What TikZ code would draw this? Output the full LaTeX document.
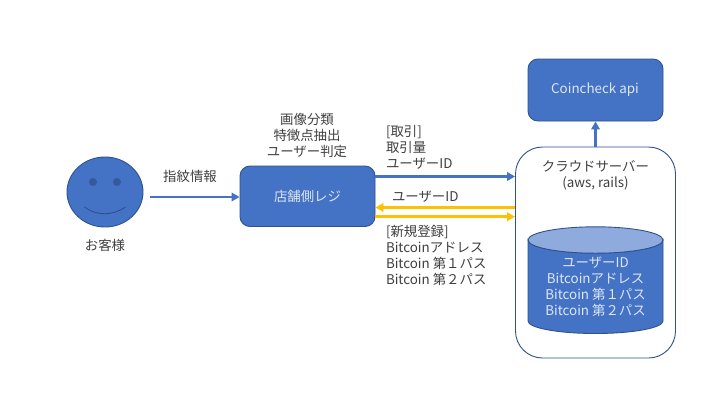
\documentclass[tikz,border=0pt]{standalone}
\usepackage{fontspec}
\setmainfont{Noto Sans CJK JP}
\usetikzlibrary{arrows.meta,shapes.geometric}
\definecolor{fillblue}{HTML}{4472C4}
\definecolor{edgeblue}{HTML}{2F528F}
\definecolor{toplight}{HTML}{8FAADC}
\definecolor{amber}{HTML}{FFC000}
\definecolor{ink}{HTML}{404040}
\definecolor{paletext}{HTML}{DDE6F5}
\tikzset{
  txt/.style={inner sep=0pt,outer sep=0pt,text=ink,font=\fontsize{13.4}{16}\selectfont,align=center},
  ltxt/.style={txt,align=left,anchor=west},
  wtxt/.style={txt,text=paletext},
  blueshape/.style={draw=edgeblue,line width=0.9pt,fill=fillblue},
  box/.style={blueshape,rounded corners=10pt,inner sep=0pt,minimum width=135pt},
  bluearrow/.style={draw=fillblue,line width=2.7pt,-{Triangle[length=8pt,width=8.5pt]}},
  amberarrow/.style={draw=amber,line width=2.7pt,-{Triangle[length=8pt,width=8.5pt]}}
}
\begin{document}
\begin{tikzpicture}[x=1pt,y=-1pt]
\useasboundingbox[fill=white] (0,0) rectangle (720,405);
% face
\node[blueshape,ellipse,minimum width=76pt,minimum height=70pt,inner sep=0pt] (face) at (105,192) {};
\fill[edgeblue!75!fillblue] (93,182) circle (4pt) (117,182) circle (4pt);
\draw[edgeblue,line width=0.9pt] (84.5,207) .. controls (96,216) and (113,216) .. (125.5,207);
\node[txt] (guest) at (105,245) {お客様};
% boxes
\node[box,minimum height=60.5pt] (store) at (307.5,196.25) {};
\node[wtxt] (storelabel) at (307.5,196) {店舗側レジ};
\node[box,minimum height=62pt] (api) at (595.5,90) {};
\node[wtxt] (apilabel) at (595,90.5) {\strut Coincheck api};
\node[draw=edgeblue,line width=0.9pt,fill=white,rounded corners=27pt,minimum width=160pt,minimum height=211pt,inner sep=0pt] (cloud) at (595.5,252.5) {};
\node[txt] (cloudlabel) at (595.5,175) {クラウドサーバー\\(aws, rails)};
% cylinder
\draw[blueshape] (528,240) -- (528,321) arc[start angle=180,end angle=360,x radius=67.5pt,y radius=12.5pt] -- (663,240) arc[start angle=0,end angle=-180,x radius=67.5pt,y radius=13pt] -- cycle;
\draw[draw=edgeblue,line width=0.9pt,fill=toplight] (595.5,240) ellipse [x radius=67.5pt,y radius=13.2pt];
\node[wtxt] (dblabel) at (595.5,287) {ユーザーID\\Bitcoinアドレス\\Bitcoin 第１パス\\Bitcoin 第２パス};
% anchors for connector heights
\coordinate (facestart) at (150,197);
\coordinate (h1) at (0,176.5);
\coordinate (h2) at (0,207.5);
\coordinate (h3) at (0,216.7);
% connectors
\draw[bluearrow] (facestart) -- (store.west |- facestart);
\draw[bluearrow] (store.east |- h1) -- (cloud.west |- h1);
\draw[amberarrow] (cloud.west |- h2) -- (store.east |- h2);
\draw[amberarrow] (store.east |- h3) -- (cloud.west |- h3);
\draw[bluearrow] (cloud.north) -- (api.south);
% labels
\node[txt] (proc) at (307,135) {画像分類\\特徴点抽出\\ユーザー判定};
\node[txt] (finger) at (190,176.5) {指紋情報};
\node[ltxt] (trade) at (386,147.5) {[取引]\\取引量\\ユーザーID};
\node[ltxt] (uid) at (392,196.5) {ユーザーID};
\node[ltxt] (reg) at (386,255.5) {[新規登録]\\Bitcoinアドレス\\Bitcoin 第１パス\\Bitcoin 第２パス};
\end{tikzpicture}
\end{document}
